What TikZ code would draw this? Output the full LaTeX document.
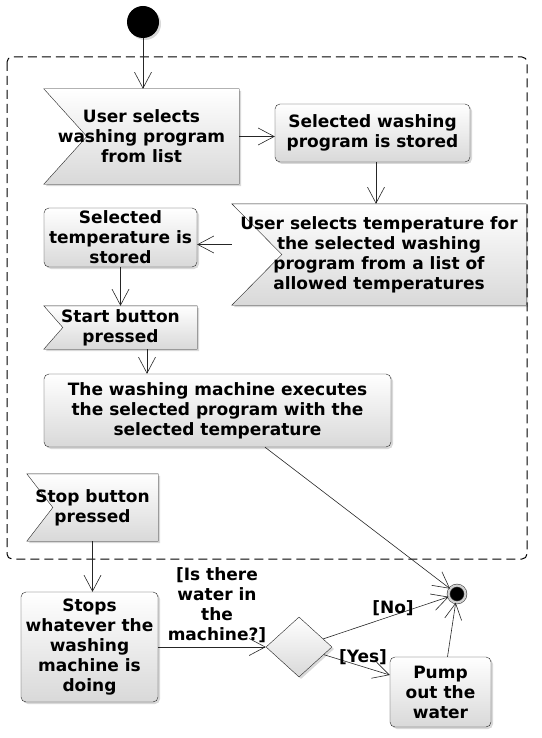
\documentclass[tikz,border=0pt]{standalone}
\usepackage{fontspec}
\setmainfont{DejaVu Sans}
\usetikzlibrary{arrows.meta,shapes.geometric,shadows,backgrounds}

\tikzstyle{txt}=[inner sep=0pt, align=center, font=\bfseries\fontsize{17}{20}\selectfont]
\tikzstyle{shade}=[draw=black!85, top color=white, bottom color=black!15, drop shadow={shadow xshift=2pt, shadow yshift=-2pt, opacity=0.3}]
\tikzstyle{act}=[txt, shade, rectangle, rounded corners=5pt]
\tikzstyle{sig}=[shade]
\tikzstyle{arr}=[draw=black!85, line width=0.6pt, -{Straight Barb[length=16pt, width=17pt]}]
\tikzstyle{frame}=[draw=black, line width=1pt, dash pattern=on 9pt off 5pt, rounded corners=5pt]

\begin{document}
\begin{tikzpicture}[x=1pt, y=-1pt]
  \useasboundingbox (0,0) rectangle (541,738);
  \draw [frame] (7,57) rectangle (527,559);

  \node [circle, fill=black, minimum size=32pt, drop shadow={shadow xshift=2pt, shadow yshift=-2pt, opacity=0.3}] (start) at (143,22) {};

  \node [txt, minimum width=195pt, minimum height=95pt] (selprog) at (141.5,136.5) {User selects\\washing program\\from list};
  \node [act, minimum width=195pt, minimum height=58pt] (progstored) at (372.5,133) {Selected washing\\program is stored};
  \node [txt, minimum width=294pt, minimum height=101pt] (seltemp) at (379,254.5) {User selects temperature for\\the selected washing\\program from a list of\\allowed temperatures};
  \node [act, minimum width=153pt, minimum height=59pt] (tempstored) at (120.5,237.5) {Selected\\temperature is\\stored};
  \node [txt, minimum width=153pt, minimum height=43pt] (startbtn) at (120.5,327.5) {Start button\\pressed};
  \node [act, minimum width=347pt, minimum height=73pt] (exec) at (217.5,410.5) {The washing machine executes\\the selected program with the\\selected temperature};
  \node [txt, minimum width=131pt, minimum height=67pt] (stopbtn) at (92.5,507.5) {Stop button\\pressed};
  \node [act, minimum width=137pt, minimum height=110pt] (stops) at (89.5,647) {Stops\\whatever the\\washing\\machine is\\doing};
  \node [diamond, shade, inner sep=0pt, minimum width=66pt, minimum height=60pt] (water) at (299,647) {};
  \node [act, minimum width=101pt, minimum height=70pt] (pump) at (440.5,692) {Pump\\out the\\water};
  \node [circle, fill=black, draw=black!75, line width=0.6pt, double=black!18, double distance=2.2pt, minimum size=17pt] (end) at (457,594) {};

  \begin{scope}[on background layer]
    \path [sig] (selprog.north west) -- (selprog.north east) -- (selprog.south east) -- (selprog.south west) -- ([xshift=43pt]selprog.west) -- cycle;
    \path [sig] (seltemp.north west) -- (seltemp.north east) -- (seltemp.south east) -- (seltemp.south west) -- ([xshift=50pt]seltemp.west) -- cycle;
    \path [sig] (startbtn.north west) -- (startbtn.north east) -- (startbtn.south east) -- (startbtn.south west) -- ([xshift=19pt]startbtn.west) -- cycle;
    \path [sig] (stopbtn.north west) -- (stopbtn.north east) -- (stopbtn.south east) -- (stopbtn.south west) -- ([xshift=26pt]stopbtn.west) -- cycle;
  \end{scope}

  \coordinate (td) at ([yshift=-7pt]tempstored.east);
  \coordinate (se) at ([xshift=26.5pt]startbtn.south);
  \coordinate (ee) at ([xshift=47.5pt]exec.south);
  \coordinate (pw) at ([yshift=17pt]pump.west);
  \coordinate (pn) at ([xshift=7pt]pump.north);

  \draw [arr] (start.south) -- (start.south |- selprog.north);
  \draw [arr] (selprog.east) -- (selprog.east -| progstored.west);
  \draw [arr] ([xshift=3.5pt]progstored.south) -- ([xshift=3.5pt]progstored.south |- seltemp.north);
  \draw [arr] (td -| seltemp.west) -- (td);
  \draw [arr] (tempstored.south) -- (startbtn.north);
  \draw [arr] (se) -- (se |- exec.north);
  \draw [arr] (ee) -- (end);
  \draw [arr] (stopbtn.south) -- (stopbtn.south |- stops.north);
  \draw [arr] (stops.east) -- (water.west);
  \draw [arr] (water) -- (end);
  \draw [arr] (water) -- (pw);
  \draw [arr] (pn) -- (end);

  \node [txt] (qwater) at (217,605) {[Is there\\water in\\the\\machine?]};
  \node [txt] (no) at (393,608) {[No]};
  \node [txt] (yes) at (363,657) {[Yes]};
\end{tikzpicture}
\end{document}
